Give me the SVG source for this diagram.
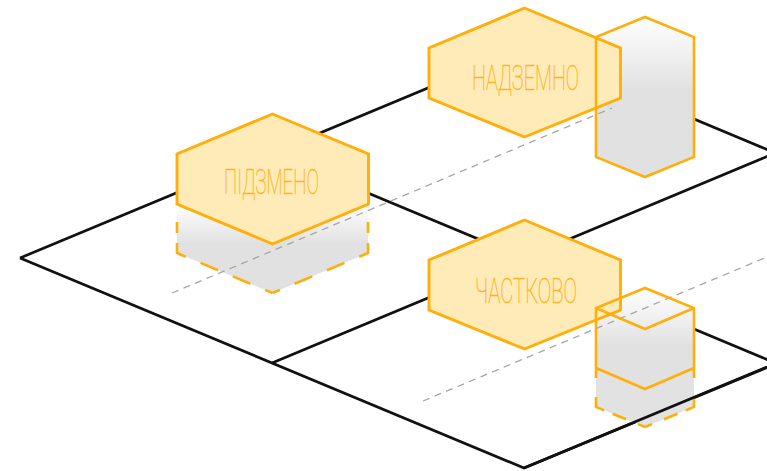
<svg xmlns="http://www.w3.org/2000/svg" width="767" height="471" viewBox="0 0 767 471">
<style>
.grid{fill:none;stroke:#111;stroke-width:2.7}
.hex{fill:#ffebb8;stroke:#ffae0a;stroke-width:2.9;stroke-linejoin:miter}
.edge{fill:none;stroke:#ffae0a;stroke-width:2.6}
.dash{fill:none;stroke:#ffae0a;stroke-width:2.6}
.guide{fill:none;stroke:#a6a6a6;stroke-width:1.3;stroke-dasharray:7 5.500}
.label{font-family:Roboto,"Liberation Sans",sans-serif;font-weight:100;font-size:35px;fill:#ffb41c;stroke:#ffb41c;stroke-width:.45;text-anchor:start}
</style>
<defs>
<linearGradient id="g1" gradientUnits="userSpaceOnUse" x1="0" y1="204" x2="0" y2="244"><stop offset="0" stop-color="#fff"/><stop offset="1" stop-color="#e1e1e1"/></linearGradient>
<linearGradient id="g2" gradientUnits="userSpaceOnUse" x1="0" y1="17" x2="0" y2="90"><stop offset="0" stop-color="#fff"/><stop offset="1" stop-color="#e1e1e1"/></linearGradient>
<linearGradient id="g3" gradientUnits="userSpaceOnUse" x1="0" y1="288" x2="0" y2="346"><stop offset="0" stop-color="#fff"/><stop offset="1" stop-color="#e1e1e1"/></linearGradient>
</defs>
<g id="connectors">
<path class="grid" d="M20 258L524 48L785 157M20 258L524 468L785 360"/>
<path class="grid" d="M272 153L524 258L785 367M272 363L524 258L785 149"/>
</g>
<g id="node-underground">
<path d="M177 204L272.500 244L368 204V253L272.500 293L177 253Z" fill="url(#g1)"/>
<path class="dash" stroke-dasharray="8 16 19 16 19 16 19.500 10 11 40" d="M272.500 293L177 253V204"/>
<path class="dash" stroke-dasharray="8 16 19 16 19 16 19.500 10 11 40" d="M272.500 293L368 253V204"/>
</g>
<g id="node-partial-prism-fill">
<path d="M596 368L645 389L694 368V407L645 427L596 407Z" fill="#e2e2e2"/>
<path class="dash" stroke-dasharray="7.500 13 14.500 9 19 40" d="M645 427L596 407V380"/>
<path class="dash" stroke-dasharray="7.500 13 14.500 9 19 40" d="M645 427L694 407V380"/>
</g>
<path class="grid" d="M524 468L767 367"/>
<g id="node-above-prism-fill">
<path d="M645 17L694 37V157L645 177L596 157V37Z" fill="url(#g2)"/>
</g>
<g id="node-partial-prism">
<path d="M645 288L694 308V368L645 389L596 368V308Z" fill="url(#g3)"/>
</g>
<path class="guide" d="M172 293L612 108M423 401L767 257"/>
<g id="node-pidzemno">
<polygon class="hex" points="272.500,114 368.500,154 368.500,204 272.500,244 177,204 177,154"/>
<text class="label" x="224" y="194" textLength="95" lengthAdjust="spacingAndGlyphs">ПІДЗМЕНО</text>
</g>
<g id="node-nadzemno">
<polygon class="hex" points="524.500,8 620.500,48 620.500,98 524.500,137 429,98 429,48"/>
<text class="label" x="472" y="90" textLength="107" lengthAdjust="spacingAndGlyphs">НАДЗЕМНО</text>
<path class="edge" d="M645 17L694 37V157L645 177L596 157V37Z"/>
</g>
<g id="node-chastkovo">
<polygon class="hex" points="524.500,220 620.500,260 620.500,310 524.500,349 429,310 429,260"/>
<text class="label" x="475" y="303" textLength="102" lengthAdjust="spacingAndGlyphs">ЧАСТКОВО</text>
<path class="edge" d="M596 378V308L645 288L694 308V378M596 308L645 329L694 308M596 368L645 389L694 368"/>
</g>
</svg>
